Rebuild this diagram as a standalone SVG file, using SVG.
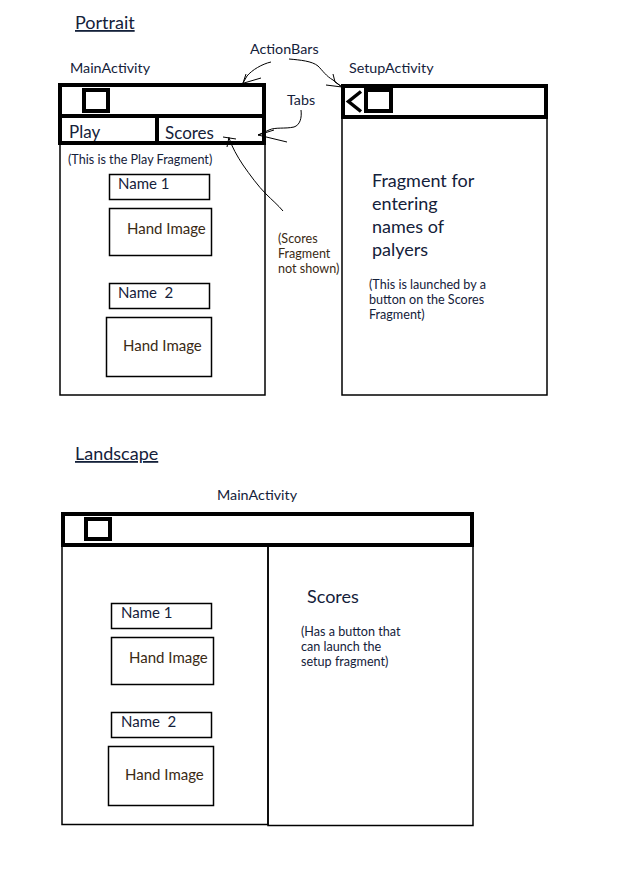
<svg xmlns="http://www.w3.org/2000/svg" width="643" height="879" viewBox="0 0 643 879">
<style>
text{font-family:Lato,"Open Sans","Liberation Sans",sans-serif;fill:#14213a}
.br{fill:#3a2a14}
.h{font-size:18px;text-decoration:underline}
.lb{font-size:14.3px}
.sm{font-size:12.6px}
.md{font-size:15px}
.tab{font-size:17px}
.big{font-size:18px}
.thick{fill:none;stroke:#000;stroke-width:4}
.thin{fill:none;stroke:#000;stroke-width:1.5}
.cn{fill:none;stroke:#000;stroke-width:1}
</style>
<rect width="643" height="879" fill="#fff"/>

<g id="portrait-title"><text x="75" y="29" class="h">Portrait</text></g>

<g id="main-portrait">
<text x="70" y="73" class="lb">MainActivity</text>
<rect x="60" y="144" width="205" height="251" class="thin"/>
<rect x="60" y="85" width="204" height="58" class="thick"/>
<line x1="60" y1="116" x2="264" y2="116" stroke="#000" stroke-width="4"/>
<line x1="157" y1="116" x2="157" y2="143" stroke="#000" stroke-width="4"/>
<rect x="84" y="90" width="24" height="21" class="thick"/>
<text x="69" y="138" class="tab">Play</text>
<text x="165" y="139" class="tab">Scores</text>
<text x="68" y="164" class="sm">(This is the Play Fragment)</text>
</g>

<g id="p-name1"><rect x="109.5" y="174.5" width="100" height="25" class="thin"/><text x="118" y="189" class="md">Name 1</text></g>
<g id="p-hand1"><rect x="109.5" y="208.5" width="102" height="47" class="thin"/><text x="127" y="234" class="md br">Hand Image</text></g>
<g id="p-name2"><rect x="109.5" y="283.5" width="100" height="25" class="thin"/><text x="118" y="298" class="md" xml:space="preserve">Name  2</text></g>
<g id="p-hand2"><rect x="106.5" y="317.5" width="105" height="59" class="thin"/><text x="123" y="351" class="md br">Hand Image</text></g>

<g id="setup-activity">
<text x="349" y="73" class="lb">SetupActivity</text>
<rect x="342" y="117" width="205" height="278" class="thin"/>
<rect x="343" y="86" width="203" height="31" class="thick"/>
<polyline points="361,91.5 348.5,101.5 361,111.5" fill="none" stroke="#000" stroke-width="3.5"/>
<rect x="366" y="90" width="25" height="21" class="thick"/>
<text x="372" y="187" class="big">Fragment for</text>
<text x="372" y="210" class="big">entering</text>
<text x="372" y="233" class="big">names of</text>
<text x="372" y="256" class="big">palyers</text>
<text x="369" y="289" class="sm">(This is launched by a</text>
<text x="369" y="304" class="sm">button on the Scores</text>
<text x="369" y="319" class="sm">Fragment)</text>
</g>

<g id="labels">
<text x="250" y="54" class="lb">ActionBars</text>
<text x="287" y="105" class="lb">Tabs</text>
<text x="278" y="243" class="sm br">(Scores</text>
<text x="278" y="258" class="sm br">Fragment</text>
<text x="278" y="273" class="sm br">not shown)</text>
</g>

<g id="connectors">
<path d="M271,62 C262,64 252,70 247,76 L243,83" class="cn"/>
<path d="M261,78 L244,83 M243,83 L246,74" class="cn"/>
<path d="M289,59 C300,60 312,61 318,66 C323,71 326,76 333,80 L342,87" class="cn"/>
<path d="M333,74 L335,82 L342,87 L326,85" class="cn"/>
<path d="M301,110 C302,118 300,125 294,127 C285,129 275,127 269,130 L258,135" class="cn"/>
<path d="M258,135 L287,142 M258,135 L274,130" class="cn"/>
<path d="M283,211 C278,205 272,200 266,194 C258,186 250,175 243,165 C237,156 232,147 229,138" class="cn"/>
<path d="M223,137 L236,139 M229,137 L227,147" class="cn"/>
</g>

<g id="landscape-title"><text x="75" y="460" class="h">Landscape</text></g>

<g id="main-landscape">
<text x="217" y="500" class="lb">MainActivity</text>
<rect x="62" y="545" width="206" height="279.5" class="thin"/>
<rect x="268" y="545" width="205" height="280.5" class="thin"/>
<rect x="63" y="514" width="409" height="31" class="thick"/>
<rect x="86" y="519" width="24" height="20" class="thick"/>
<text x="307" y="603" class="big">Scores</text>
<text x="301" y="636" class="sm">(Has a button that</text>
<text x="301" y="651" class="sm">can launch the</text>
<text x="301" y="666" class="sm">setup fragment)</text>
</g>

<g id="l-name1"><rect x="111.5" y="603.5" width="100" height="25" class="thin"/><text x="121" y="618" class="md">Name 1</text></g>
<g id="l-hand1"><rect x="111.5" y="637.5" width="102" height="47" class="thin"/><text x="129" y="663" class="md br">Hand Image</text></g>
<g id="l-name2"><rect x="111.5" y="712.5" width="100" height="25" class="thin"/><text x="121" y="727" class="md" xml:space="preserve">Name  2</text></g>
<g id="l-hand2"><rect x="108.5" y="746.5" width="105" height="59" class="thin"/><text x="125" y="780" class="md br">Hand Image</text></g>
</svg>
